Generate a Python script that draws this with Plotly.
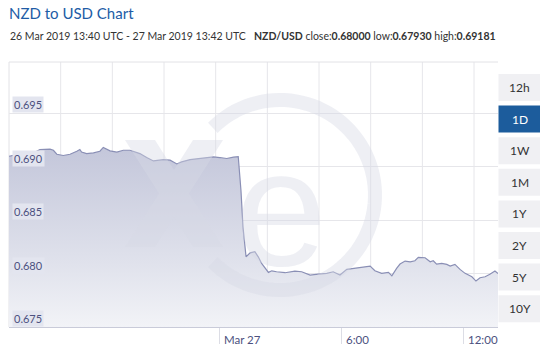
import numpy as np
import plotly.graph_objects as go

# ---------------- data ----------------
times = [
    "2019-03-26 13:40", "2019-03-26 14:03", "2019-03-26 14:32", "2019-03-26 14:52",
    "2019-03-26 15:11", "2019-03-26 15:41", "2019-03-26 15:51", "2019-03-26 16:01",
    "2019-03-26 16:20", "2019-03-26 16:40", "2019-03-26 17:00", "2019-03-26 17:09",
    "2019-03-26 17:14", "2019-03-26 17:29", "2019-03-26 17:49", "2019-03-26 18:08",
    "2019-03-26 18:18", "2019-03-26 18:38", "2019-03-26 18:58", "2019-03-26 19:17",
    "2019-03-26 19:37", "2019-03-26 20:06", "2019-03-26 20:26", "2019-03-26 20:46",
    "2019-03-26 21:15", "2019-03-26 21:35", "2019-03-26 21:55", "2019-03-26 22:09",
    "2019-03-26 22:34", "2019-03-26 23:03", "2019-03-26 23:23", "2019-03-26 23:43",
    "2019-03-27 00:02", "2019-03-27 00:22", "2019-03-27 00:42", "2019-03-27 00:56",
    "2019-03-27 01:04", "2019-03-27 01:10", "2019-03-27 01:19", "2019-03-27 01:31",
    "2019-03-27 01:45", "2019-03-27 01:55", "2019-03-27 02:05", "2019-03-27 02:15",
    "2019-03-27 02:25", "2019-03-27 02:35", "2019-03-27 02:49", "2019-03-27 03:14",
    "2019-03-27 03:43", "2019-03-27 04:03", "2019-03-27 04:28", "2019-03-27 04:52",
    "2019-03-27 05:17", "2019-03-27 05:36", "2019-03-27 05:56", "2019-03-27 06:16",
    "2019-03-27 06:40", "2019-03-27 07:00", "2019-03-27 07:25", "2019-03-27 07:39",
    "2019-03-27 07:59", "2019-03-27 08:19", "2019-03-27 08:29", "2019-03-27 08:43",
    "2019-03-27 08:53", "2019-03-27 09:08", "2019-03-27 09:23", "2019-03-27 09:37",
    "2019-03-27 09:47", "2019-03-27 10:07", "2019-03-27 10:22", "2019-03-27 10:31",
    "2019-03-27 10:41", "2019-03-27 10:56", "2019-03-27 11:11", "2019-03-27 11:21",
    "2019-03-27 11:35", "2019-03-27 11:50", "2019-03-27 12:05", "2019-03-27 12:25",
    "2019-03-27 12:37", "2019-03-27 12:49", "2019-03-27 13:04", "2019-03-27 13:18",
    "2019-03-27 13:33", "2019-03-27 13:42",
]
rates = [
    0.69098, 0.69114, 0.69114, 0.69129, 0.69161, 0.69164, 0.69154, 0.69117,
    0.69105, 0.69117, 0.69145, 0.69161, 0.69138, 0.69123, 0.69129, 0.69145,
    0.69181, 0.69148, 0.69136, 0.69154, 0.69154, 0.69123, 0.69086, 0.69054,
    0.69067, 0.69061, 0.69026, 0.69045, 0.69067, 0.69077, 0.69086, 0.69092,
    0.69086, 0.69077, 0.69089, 0.69095,
    0.68780, 0.68437, 0.68157, 0.68194, 0.68204, 0.68157, 0.68095, 0.68049,
    0.68011, 0.68026, 0.68017, 0.68008, 0.68023, 0.68017, 0.67986, 0.67995,
    0.68002, 0.68017, 0.67986, 0.68039, 0.68051, 0.68064, 0.68070, 0.68026,
    0.68002, 0.68011, 0.67979, 0.68049, 0.68089, 0.68117, 0.68110, 0.68120,
    0.68151, 0.68148, 0.68110, 0.68120, 0.68089, 0.68095, 0.68086, 0.68070,
    0.68086, 0.68039, 0.68002, 0.67970, 0.67930, 0.67961, 0.67970, 0.67993,
    0.68023, 0.68000,
]
y_ticks = [0.675, 0.680, 0.685, 0.690, 0.695]
y_tick_labels = ["0.675", "0.680", "0.685", "0.690", "0.695"]
x_ticks = ["2019-03-27 00:00", "2019-03-27 06:00", "2019-03-27 12:00"]
x_tick_labels = ["Mar 27", "6:00", "12:00"]
buttons = ["12h", "1D", "1W", "1M", "1Y", "2Y", "5Y", "10Y"]
selected_button = "1D"
title = "NZD to USD Chart"
subtitle = "26 Mar 2019 13:40 UTC - 27 Mar 2019 13:42 UTC"
stats = "<b>NZD/USD</b> close:<b>0.68000</b> low:<b>0.67930</b> high:<b>0.69181</b>"

# ---------------- layout geometry (pixels) ----------------
W, H = 541, 353
L, R, T, B = 9, 498, 62, 327
FONT = "Source Sans Pro, Lato, sans-serif"


def px(x):
    return (x - L) / (R - L)


def py(y):
    return (B - y) / (B - T)


fig = go.Figure()
fig.add_trace(go.Scatter(
    x=times, y=rates, mode="lines",
    line=dict(color="#8a8fb5", width=1.2),
    fill="tozeroy",
    fillgradient=dict(type="vertical", start=0.675, stop=0.692,
                      colorscale=[[0, "#f2f3f7"], [0.35, "#e0e2ec"], [1, "#c3c6da"]]),
    hoverinfo="skip", showlegend=False,
))

shapes = []
# vertical grid lines
step = 51.67
k = 1
while L + k * step < R - 2:
    shapes.append(dict(type="line", xref="paper", yref="paper",
                       x0=px(L + k * step), x1=px(L + k * step), y0=0, y1=1,
                       line=dict(color="#e6e6ea", width=1), layer="below"))
    k += 1
# top and left border
shapes.append(dict(type="line", xref="paper", yref="paper", x0=0, x1=1, y0=1, y1=1,
                   line=dict(color="#e2e2e6", width=1), layer="below"))
shapes.append(dict(type="line", xref="paper", yref="paper", x0=0, x1=0, y0=0, y1=1,
                   line=dict(color="#e2e2e6", width=1), layer="below"))

# watermark: ring (open on left), x glyph
WM = "rgba(214,216,228,0.42)"
cx, cy, rr = 280, 195, 95
ang = np.linspace(np.deg2rad(135), np.deg2rad(-135), 80)
pts = [(px(cx + rr * np.cos(a)), py(cy - rr * np.sin(a))) for a in ang]
path = "M " + " L ".join(f"{a:.5f},{b:.5f}" for a, b in pts)
shapes.append(dict(type="path", xref="paper", yref="paper", path=path,
                   line=dict(color=WM, width=14), layer="above"))
xo = [(125, 140), (155, 140), (174, 169.9), (193, 140), (223, 140), (189, 193.5),
      (223, 247), (193, 247), (174, 217.1), (155, 247), (125, 247), (159, 193.5)]
xpath = "M " + " L ".join(f"{px(a):.5f},{py(b):.5f}" for a, b in xo) + " Z"
shapes.append(dict(type="path", xref="paper", yref="paper", path=xpath,
                   fillcolor=WM, line=dict(width=0), layer="above"))

annotations = []
# watermark e
annotations.append(dict(text="e", xref="paper", yref="paper", x=px(281), y=py(208),
                        xanchor="center", yanchor="middle", showarrow=False,
                        font=dict(family="Liberation Sans", size=165, color=WM)))

# buttons
for i, b in enumerate(buttons):
    yc = 87.5 + 31.6 * i
    sel = b == selected_button
    shapes.append(dict(type="rect", xref="paper", yref="paper",
                       x0=px(498.5), x1=px(540), y0=py(yc - 13.5), y1=py(yc + 13.5),
                       fillcolor="#1c5c9c" if sel else "#f0f0f3", line=dict(width=0)))
    annotations.append(dict(text=b, xref="paper", yref="paper", x=px(519.5), y=py(yc),
                            xanchor="center", yanchor="middle", showarrow=False,
                            font=dict(family=FONT, size=12,
                                      color="#ffffff" if sel else "#333333")))

# y labels
for v, t in zip(y_ticks, y_tick_labels):
    annotations.append(dict(text=t, xref="paper", yref="y", x=px(12), y=v,
                            xanchor="left", yanchor="bottom", showarrow=False,
                            bgcolor="#e3e5ef", borderpad=1,
                            font=dict(family=FONT, size=11, color="#4c5180")))
# x labels
for v, t in zip(x_ticks, x_tick_labels):
    annotations.append(dict(text=t, xref="x", yref="paper", x=v, y=py(339),
                            xanchor="left", yanchor="middle", xshift=3, showarrow=False,
                            font=dict(family=FONT, size=11.5, color="#4c5180")))

# titles
annotations.append(dict(text=title, xref="paper", yref="paper", x=px(7), y=py(13),
                        xanchor="left", yanchor="middle", showarrow=False,
                        font=dict(family=FONT, size=15, color="#215ca6")))
annotations.append(dict(text=subtitle, xref="paper", yref="paper", x=px(8), y=py(36),
                        xanchor="left", yanchor="middle", showarrow=False,
                        font=dict(family=FONT, size=10.5, color="#333333")))
annotations.append(dict(text=stats, xref="paper", yref="paper", x=px(498), y=py(36),
                        xanchor="right", yanchor="middle", showarrow=False,
                        font=dict(family=FONT, size=10.5, color="#333333")))

fig.update_layout(
    width=W, height=H,
    margin=dict(l=L, r=W - R, t=T, b=H - B, pad=0),
    paper_bgcolor="white", plot_bgcolor="white",
    showlegend=False,
    shapes=shapes, annotations=annotations,
    xaxis=dict(type="date", range=[times[0], times[-1]], showgrid=False, zeroline=False,
               tickvals=x_ticks, ticktext=["" for _ in x_ticks], ticks="outside",
               ticklen=16, tickcolor="#dcdde5", tickwidth=1,
               showline=True, linecolor="#c9cbd9", linewidth=1, fixedrange=True),
    yaxis=dict(range=[0.675, 0.6998], tickvals=y_ticks, showticklabels=False,
               showgrid=True, gridcolor="#e6e6ea", gridwidth=1, zeroline=False,
               showline=False, fixedrange=True),
)

fig.write_html("out.html", config={"displayModeBar": False})
